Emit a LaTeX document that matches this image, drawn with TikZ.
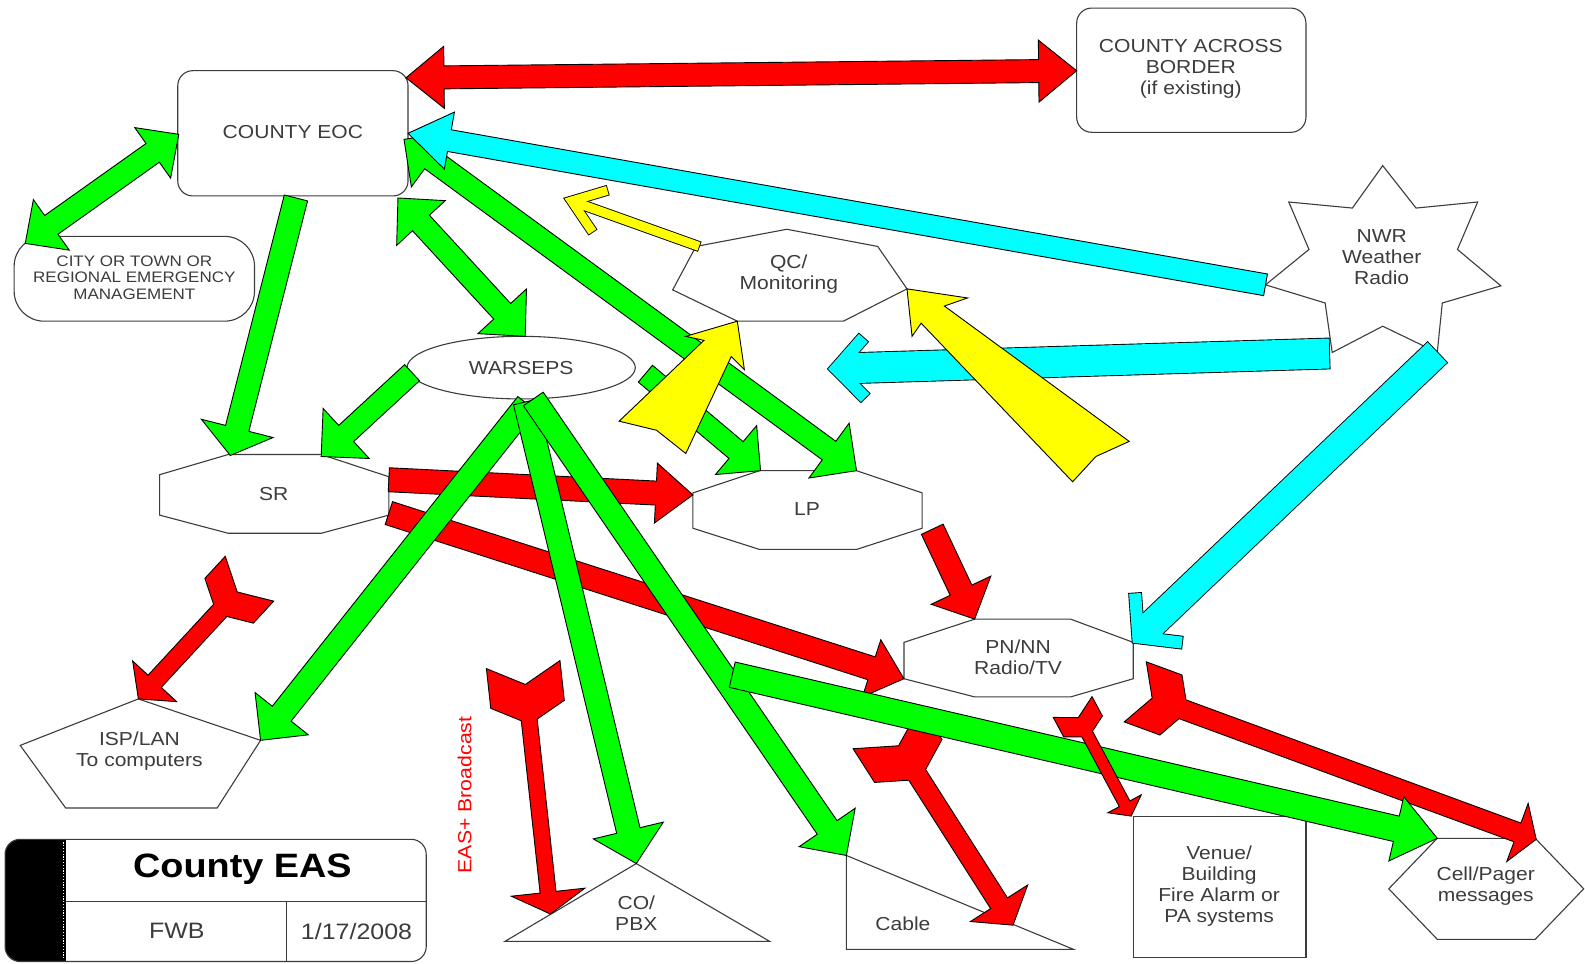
\documentclass[tikz,border=0pt]{standalone}
\usepackage{fontspec}
\setmainfont{Liberation Sans}[FakeStretch=1.12]
\usetikzlibrary{calc}
\definecolor{arRed}{RGB}{255,0,0}
\definecolor{arGreen}{RGB}{0,255,0}
\definecolor{arCyan}{RGB}{0,255,255}
\definecolor{arYellow}{RGB}{255,255,0}
\definecolor{inkGray}{RGB}{60,60,60}

% single headed block arrow: style, tail, tip, half shaft, head length, half head
\newcommand{\BlkArrow}[6]{%
  \coordinate (bS) at (#2); \coordinate (bT) at (#3);
  \coordinate (bH) at ($(bT)!#5pt!(bS)$);
  \draw[#1] ($(bS)!#4pt!90:(bT)$) -- ($(bH)!#4pt!90:(bT)$) -- ($(bH)!#6pt!90:(bT)$) -- (bT) -- ($(bH)!#6pt!-90:(bT)$) -- ($(bH)!#4pt!-90:(bT)$) -- ($(bS)!#4pt!-90:(bT)$) -- cycle;}
% double headed block arrow
\newcommand{\DblArrow}[6]{%
  \coordinate (bS) at (#2); \coordinate (bT) at (#3);
  \coordinate (bH) at ($(bT)!#5pt!(bS)$);
  \coordinate (bG) at ($(bS)!#5pt!(bT)$);
  \draw[#1] (bS) -- ($(bG)!#6pt!90:(bT)$) -- ($(bG)!#4pt!90:(bT)$) -- ($(bH)!#4pt!90:(bT)$) -- ($(bH)!#6pt!90:(bT)$) -- (bT) -- ($(bH)!#6pt!-90:(bT)$) -- ($(bH)!#4pt!-90:(bT)$) -- ($(bG)!#4pt!-90:(bT)$) -- ($(bG)!#6pt!-90:(bT)$) -- cycle;}
% notched tail arrow: style, tail, tip, half shaft, head length, half head, half tail, notch, tail length
\newcommand{\NtArrow}[9]{%
  \coordinate (bS) at (#2); \coordinate (bT) at (#3);
  \coordinate (bH) at ($(bT)!#5pt!(bS)$);
  \pgfmathsetlengthmacro\ntj{(#9+#8*(1-#4/#7))*1pt}%
  \coordinate (bN) at ($(bS)!#8pt!(bT)$);
  \coordinate (bF) at ($(bS)!#9pt!(bT)$);
  \coordinate (bJ) at ($(bS)!\ntj!(bT)$);
  \draw[#1] (bN) -- ($(bS)!#7pt!90:(bT)$) -- ($(bF)!#7pt!90:(bT)$) -- ($(bJ)!#4pt!90:(bT)$) -- ($(bH)!#4pt!90:(bT)$) -- ($(bH)!#6pt!90:(bT)$) -- (bT) -- ($(bH)!#6pt!-90:(bT)$) -- ($(bH)!#4pt!-90:(bT)$) -- ($(bJ)!#4pt!-90:(bT)$) -- ($(bF)!#7pt!-90:(bT)$) -- ($(bS)!#7pt!-90:(bT)$) -- cycle;}
% open chevron arrow: colour, tail, tip, shaft width, head length, half head, arm width, shaft end
\newcommand{\OpArrow}[8]{%
  \coordinate (bS) at (#2); \coordinate (bT) at (#3);
  \coordinate (bH) at ($(bT)!#5pt!(bS)$);
  \coordinate (bA) at ($(bH)!#6pt!90:(bT)$);
  \coordinate (bB) at ($(bH)!#6pt!-90:(bT)$);
  \coordinate (bE) at ($(bT)!#8pt!(bS)$);
  \draw[black, line width=#4pt+1.8pt] ($(bS)!-0.9pt!(bT)$) -- (bE);
  \draw[black, line width=#7pt+1.8pt, miter limit=20] ($(bA)!-0.9pt!(bT)$) -- (bT) -- ($(bB)!-0.9pt!(bT)$);
  \draw[#1, line width=#4pt] (bS) -- (bE);
  \draw[#1, line width=#7pt, miter limit=20] (bA) -- (bT) -- (bB);}

\begin{document}
\begin{tikzpicture}[x=1.01pt,y=-1.01pt,
  shp/.style={draw=inkGray, line width=1.1pt, fill=white},
  txt/.style={text=inkGray, font=\fontsize{18.8}{21}\selectfont, align=center, inner sep=0pt},
  blk/.style={draw=black, line width=0.9pt, line join=miter},
  redA/.style={blk, fill=arRed}, greenA/.style={blk, fill=arGreen},
  cyanA/.style={blk, fill=arCyan}, yellowA/.style={blk, fill=arYellow}]
\useasboundingbox[fill=white] (0,0) rectangle (1569.3,953.5);

% ---------- shapes and texts ----------
\draw[shp, rounded corners=15pt] (176,70) rectangle (404,194);
\node[txt] (eoc) at (290,131) {COUNTY EOC};
\draw[shp, rounded corners=15pt] (1066,8) rectangle (1293,131);
\node[txt] (border) at (1179,68) {COUNTY ACROSS\\BORDER\\(if existing)};
\draw[shp, rounded corners=30pt] (14,234) rectangle (252,318);
\node[txt, font=\fontsize{15.2}{16.7}\selectfont] (city) at (133,275) {CITY OR TOWN OR\\REGIONAL EMERGENCY\\MANAGEMENT};
\draw[shp] (666,287) -- (689,244) -- (779,227) -- (869,244) -- (898,286) -- (835,318) -- (730,318) -- cycle;
\node[txt] (qc) at (781,271) {QC/\\Monitoring};
\draw[shp] (1369,164) -- (1402,206) -- (1463,200) -- (1443,247) -- (1486,283) -- (1428,300) -- (1423,349) -- (1369,323) -- (1319,349) -- (1312,300) -- (1253,282) -- (1296,247) -- (1276,200) -- (1339,206) -- cycle;
\node[txt] (nwr) at (1368,255) {NWR\\Weather\\Radio};
\draw[shp] (516,364) ellipse [x radius=113, y radius=31];
\node[txt] (warseps) at (516,364) {WARSEPS};
\draw[shp] (226,450) -- (318,450) -- (385,472) -- (385,510) -- (318,528) -- (226,528) -- (158,510) -- (158,470) -- cycle;
\node[txt] (sr) at (271,489) {SR};
\draw[shp] (752,466) -- (848,466) -- (913,488) -- (913,523) -- (848,544) -- (752,544) -- (686,523) -- (686,488) -- cycle;
\node[txt] (lp) at (799,504) {LP};
\draw[shp] (965,613) -- (1060,613) -- (1122,636) -- (1122,672) -- (1060,690) -- (965,690) -- (895,672) -- (895,636) -- cycle;
\node[txt] (pn) at (1008,651) {PN/NN\\Radio/TV};
\draw[shp] (137,692) -- (258,733) -- (215,800) -- (65,800) -- (20,738) -- cycle;
\node[txt] (isp) at (138,744) {ISP/LAN\\To computers};
\draw[shp] (630,855) -- (762,932) -- (500,932) -- cycle;
\node[txt] (co) at (630,904) {CO/\\PBX};
\draw[shp] (838,847) -- (1063,940) -- (838,940) -- cycle;
\node[txt] (cable) at (894,915) {Cable};
\draw[shp] (1122,808) rectangle (1293,948);
\node[txt] (venue) at (1207,877) {Venue/\\Building\\Fire Alarm or\\PA systems};
\draw[shp] (1423,830) -- (1520,830) -- (1568,880) -- (1520,930) -- (1423,930) -- (1375,880) -- cycle;
\node[txt] (cell) at (1471,877) {Cell/Pager\\messages};

% title block
\fill[black, rounded corners=15pt] (5,831) rectangle (90,952);
\fill[white] (65,832) rectangle (92,951);
\draw[inkGray, line width=1.1pt, rounded corners=15pt] (5,831) rectangle (422,952);
\draw[white, line width=1pt, dash pattern=on 1.2pt off 1.6pt] (63,834) -- (63,950);
\draw[inkGray, line width=1.1pt] (65,893) -- (422,893) (284,893) -- (284,952);
\node[font=\bfseries\fontsize{33.8}{36}\selectfont, inner sep=0pt] (title) at (240,861) {County EAS};
\node[text=inkGray, font=\fontsize{22.3}{24}\selectfont, inner sep=0pt] (fwb) at (175,922) {FWB};
\node[text=inkGray, font=\fontsize{22.3}{24}\selectfont, inner sep=0pt] (date) at (353,922) {1/17/2008};
\node[rotate=90, text=arRed, font=\fontsize{19}{21}\selectfont, inner sep=0pt] (eas) at (460,787) {EAS+ Broadcast};

% ---------- arrow end points ----------
\coordinate (a1s) at (402,77);   \coordinate (a1t) at (1066,70);
\coordinate (a2s) at (1253,282); \coordinate (a2t) at (404,132);
\coordinate (a3s) at (400,138);  \coordinate (a3t) at (848,466);
\coordinate (a4s) at (394,196);  \coordinate (a4t) at (520,333);
\coordinate (a5s) at (177,133);  \coordinate (a5t) at (25,241);
\coordinate (a6s) at (293,196);  \coordinate (a6t) at (228,451);
\coordinate (a7s) at (408,369);  \coordinate (a7t) at (318,452);
\coordinate (a8s) at (639,370);  \coordinate (a8t) at (753,466);
\coordinate (a9s) at (522,400);  \coordinate (a9t) at (258,733);
\coordinate (a10s) at (520,398); \coordinate (a10t) at (630,855);
\coordinate (a11s) at (528,395); \coordinate (a11t) at (838,847);
\coordinate (a12s) at (725,668); \coordinate (a12t) at (1423,830);
\coordinate (a13s) at (385,475); \coordinate (a13t) at (686,490);
\coordinate (a14s) at (385,508); \coordinate (a14t) at (895,672);
\coordinate (a15s) at (923,524); \coordinate (a15t) at (965,613);
\coordinate (a16s) at (247,573); \coordinate (a16t) at (137,692);
\coordinate (a17s) at (518,658); \coordinate (a17t) at (545,905);
\coordinate (a18s) at (878,720); \coordinate (a18t) at (1003,916);
\coordinate (a19s) at (1062,700); \coordinate (a19t) at (1120,808);
\coordinate (a20s) at (1124,685); \coordinate (a20t) at (1521,831);
\coordinate (a21s) at (1316,350); \coordinate (a21t) at (828,365);
\coordinate (a22s) at (1423,349); \coordinate (a22t) at (1127,631);
\coordinate (a25s) at (692,244); \coordinate (a25t) at (566,199);

% ---------- red ----------
\DblArrow{redA}{a1s}{a1t}{11.5}{38}{31}
\BlkArrow{redA}{a13s}{a13t}{12}{37}{30}
\BlkArrow{redA}{a14s}{a14t}{12}{34}{30}
\BlkArrow{redA}{a15s}{a15t}{12}{32}{33}
\NtArrow{redA}{a16s}{a16t}{9}{24}{30}{33}{18}{30}
\NtArrow{redA}{a17s}{a17t}{8}{22}{37}{37}{20}{40}
\NtArrow{redA}{a18s}{a18t}{10}{26}{34}{40}{22}{40}
\NtArrow{redA}{a20s}{a20t}{10}{20}{31}{32}{18}{38}
% ---------- green ----------
\DblArrow{greenA}{a3s}{a3t}{11.5}{34}{34}
\DblArrow{greenA}{a4s}{a4t}{11.5}{34}{33}
\DblArrow{greenA}{a5s}{a5t}{11.5}{32}{31}
\BlkArrow{greenA}{a6s}{a6t}{12}{28}{37}
\BlkArrow{greenA}{a7s}{a7t}{11}{34}{34}
\BlkArrow{greenA}{a8s}{a8t}{11}{32}{32}
\BlkArrow{greenA}{a9s}{a9t}{12}{34}{34}
\BlkArrow{greenA}{a10s}{a10t}{12}{34}{36}
\BlkArrow{greenA}{a11s}{a11t}{12}{34}{34}
\BlkArrow{greenA}{a12s}{a12t}{13}{42}{33}
\NtArrow{redA}{a19s}{a19t}{6}{14}{19}{22}{12}{22}
% ---------- cyan ----------
\BlkArrow{cyanA}{a2s}{a2t}{11}{42}{29}
\OpArrow{arCyan}{a21s}{a21t}{30}{28}{30}{12}{7.5}
\OpArrow{arCyan}{a22s}{a22t}{28}{28}{34}{12}{6}
% ---------- yellow ----------
\draw[yellowA] (898,286) -- (958,295) -- (935,303) -- (1118,437) -- (1085,452) -- (1062,477) -- (912,320) -- (903,333) -- cycle;
\draw[yellowA] (730,318) -- (737,366) -- (724,353) -- (679,449) -- (650,426) -- (613,417) -- (697,337) -- (679,333) -- cycle;
\OpArrow{arYellow}{a25s}{a25t}{9}{30}{22}{9}{4}
\end{tikzpicture}
\end{document}
